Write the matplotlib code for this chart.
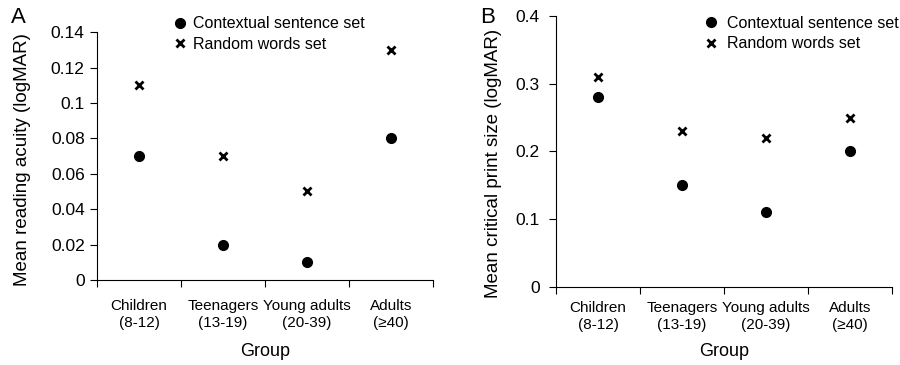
import numpy as np
import matplotlib
matplotlib.use('Agg')
import matplotlib.pyplot as plt

plt.rcParams['font.family'] = ['Liberation Sans', 'DejaVu Sans']

groups = ['Children\n(8-12)', 'Teenagers\n(13-19)', 'Young adults\n(20-39)', 'Adults\n(\u226540)']

acuity_sentence = [0.07, 0.02, 0.01, 0.08]
acuity_random = [0.11, 0.07, 0.05, 0.13]

cps_sentence = [0.28, 0.15, 0.11, 0.20]
cps_random = [0.31, 0.23, 0.22, 0.25]

fig = plt.figure(figsize=(9, 3.65), dpi=100)
axA = fig.add_axes([0.108, 0.233, 0.373, 0.679])
axB = fig.add_axes([0.618, 0.214, 0.373, 0.742])


def style(ax, ymax, yticks, yticklabels, ylabel, catpad, ypad, xlabpad, ylabsize, ylabxy):
    x = np.arange(1, len(groups) + 1)
    ax.set_xlim(0.5, len(groups) + 0.5)
    ax.set_ylim(0, ymax)
    ax.set_xticks(np.arange(0.5, len(groups) + 1, 1.0))
    ax.set_xticklabels([])
    ax.set_xticks(x, minor=True)
    ax.set_xticklabels(groups, minor=True, fontsize=11)
    ax.tick_params(axis='x', which='minor', length=0, pad=catpad)
    ax.tick_params(axis='x', which='major', length=5, direction='out')
    ax.set_yticks(yticks)
    ax.set_yticklabels(yticklabels, fontsize=12.5)
    ax.tick_params(axis='y', length=5, direction='out', pad=ypad)
    for s in ['top', 'right']:
        ax.spines[s].set_visible(False)
    ax.set_xlabel('Group', fontsize=13, labelpad=xlabpad)
    ax.set_ylabel(ylabel, fontsize=ylabsize)
    ax.yaxis.set_label_coords(*ylabxy)
    return x


x = style(axA, 0.14, [0, 0.02, 0.04, 0.06, 0.08, 0.1, 0.12, 0.14],
          ['0', '0.02', '0.04', '0.06', '0.08', '0.1', '0.12', '0.14'],
          'Mean reading acuity (logMAR)', catpad=14, ypad=4, xlabpad=10,
          ylabsize=13.5, ylabxy=(-0.197, 0.485))
axA.plot(x, acuity_sentence, 'o', color='black', markersize=7, label='Contextual sentence set', clip_on=False)
axA.plot(x, acuity_random, 'x', color='black', markersize=6, markeredgewidth=2, label='Random words set', clip_on=False)
axA.legend(loc='upper left', bbox_to_anchor=(0.2, 1.09), frameon=False, fontsize=11.5,
           handletextpad=0.2, handlelength=1.2, labelspacing=0.35, borderaxespad=0)

x = style(axB, 0.4, [0, 0.1, 0.2, 0.3, 0.4], ['0', '0.1', '0.2', '0.3', '0.4'],
          'Mean critical print size (logMAR)', catpad=10.5, ypad=7, xlabpad=8,
          ylabsize=13.5, ylabxy=(-0.161, 0.457))
axB.plot(x, cps_sentence, 'o', color='black', markersize=7, label='Contextual sentence set', clip_on=False)
axB.plot(x, cps_random, 'x', color='black', markersize=6, markeredgewidth=2, label='Random words set', clip_on=False)
axB.legend(loc='upper left', bbox_to_anchor=(0.415, 1.025), frameon=False, fontsize=11.5,
           handletextpad=0.35, handlelength=1.2, labelspacing=0.35, borderaxespad=0)

fig.text(0.012, 0.98, 'A', fontsize=16, va='top')
fig.text(0.534, 0.98, 'B', fontsize=16, va='top')

fig.savefig('out.png', dpi=100)
